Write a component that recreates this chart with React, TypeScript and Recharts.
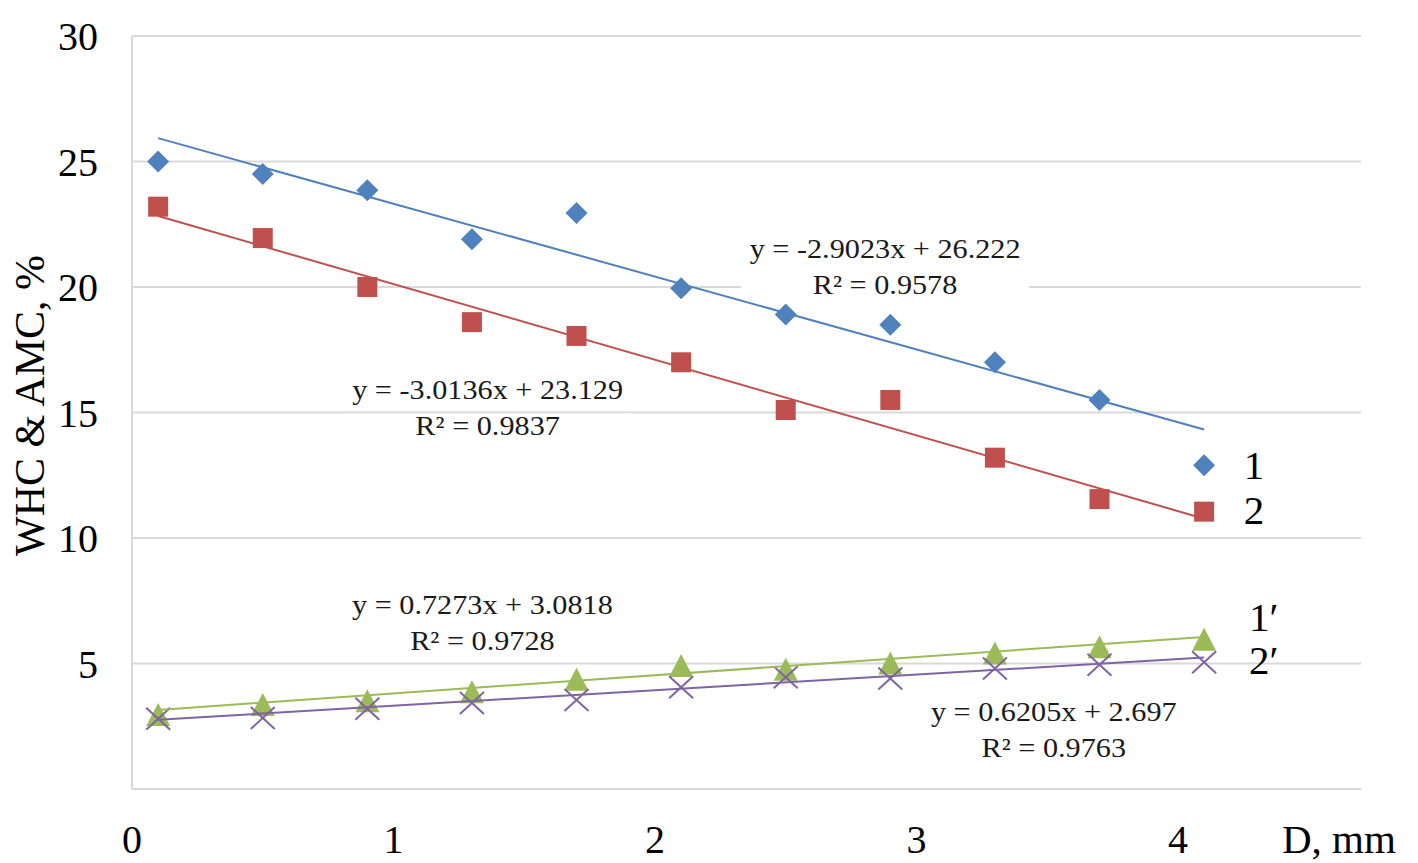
import React from 'react';
import {
  ScatterChart, Scatter, XAxis, YAxis, CartesianGrid, ReferenceDot,
} from 'recharts';

// grain size D, mm
const D_VALUES = [0.1, 0.5, 0.9, 1.3, 1.7, 2.1, 2.5, 2.9, 3.3, 3.7, 4.1];

// series
const WHC_1 = [25.0, 24.5, 23.85, 21.9, 22.95, 19.95, 18.9, 18.5, 17.0, 15.5, 12.9];
const WHC_2 = [23.2, 21.95, 20.0, 18.6, 18.05, 17.0, 15.1, 15.5, 13.2, 11.55, 11.05];
const AMC_1 = [2.95, 3.35, 3.5, 3.85, 4.35, 4.9, 4.75, 5.0, 5.4, 5.65, 5.95];
const AMC_2 = [2.8, 2.83, 3.2, 3.43, 3.55, 4.05, 4.45, 4.4, 4.8, 4.95, 5.05];

// linear trendline end points
const TREND_X = [0.1, 4.1];
const TREND_1 = [25.93, 14.32];
const TREND_2 = [22.83, 10.77];
const TREND_1P = [3.15, 6.06];
const TREND_2P = [2.76, 5.24];

const X_TICKS = [0, 1, 2, 3, 4];
const Y_TICKS = [0, 5, 10, 15, 20, 25, 30];

const EQUATIONS = [
  { x: 2.88, y: 20.8, lines: ['y = -2.9023x + 26.222', 'R² = 0.9578'], box: true },
  { x: 1.36, y: 15.2, lines: ['y = -3.0136x + 23.129', 'R² = 0.9837'], box: true },
  { x: 1.34, y: 6.65, lines: ['y = 0.7273x + 3.0818', 'R² = 0.9728'], box: false },
  { x: 3.525, y: 2.35, lines: ['y = 0.6205x + 2.697', 'R² = 0.9763'], box: false },
];

const SERIES_LABELS = [
  { x: 4.29, y: 12.9, text: '1' },
  { x: 4.29, y: 11.1, text: '2' },
  { x: 4.31, y: 6.85, text: '1′' },
  { x: 4.31, y: 5.15, text: '2′' },
];

const BLUE = '#4f81bd';
const RED = '#c0504d';
const GREEN = '#9bbb59';
const PURPLE = '#8064a2';
const GRID = '#d9d9d9';
const FONT = "'Liberation Serif', 'Times New Roman', serif";

const toPoints = (ys: number[]) => D_VALUES.map((x, i) => ({ x, y: ys[i] }));
const toTrend = (ys: number[]) => TREND_X.map((x, i) => ({ x, y: ys[i] }));

const Diamond = ({ cx, cy }: any) => (
  <path d={`M${cx},${cy - 11}L${cx + 11},${cy}L${cx},${cy + 11}L${cx - 11},${cy}Z`} fill={BLUE} />
);
const Square = ({ cx, cy }: any) => (
  <rect x={cx - 10} y={cy - 10} width={20} height={20} fill={RED} />
);
const Triangle = ({ cx, cy }: any) => (
  <path d={`M${cx},${cy - 12}L${cx + 12},${cy + 11}L${cx - 12},${cy + 11}Z`} fill={GREEN} />
);
const Cross = ({ cx, cy }: any) => (
  <g stroke={PURPLE} strokeWidth={2}>
    <line x1={cx - 12} y1={cy - 11} x2={cx + 12} y2={cy + 11} />
    <line x1={cx - 12} y1={cy + 11} x2={cx + 12} y2={cy - 11} />
  </g>
);
const NoDot = () => <g />;

const EquationLabel = ({ cx, cy, lines, box }: any) => (
  <g>
    {box && <rect x={cx - 144} y={cy + 6} width={288} height={26} fill="#fff" />}
    <g transform={`translate(${cx},${cy}) scale(1.12,1)`}>
      {lines.map((t: string, i: number) => (
        <text
          key={i}
          x={0}
          y={i === 0 ? -18 : 18}
          textAnchor="middle"
          dominantBaseline="central"
          fontFamily={FONT}
          fontSize={27}
          fill="#1a1a1a"
        >
          {t}
        </text>
      ))}
    </g>
  </g>
);

const SeriesLabel = ({ cx, cy, text }: any) => (
  <text x={cx - 10} y={cy} dominantBaseline="central" fontFamily={FONT} fontSize={41} fill="#000">
    {text}
  </text>
);

export default function App() {
  return (
    <div style={{ position: 'absolute', left: 0, top: 0, width: 1418, height: 863, background: '#fff' }}>
      <ScatterChart width={1418} height={863} margin={{ top: 36, right: 57, bottom: 0, left: 0 }}>
        <CartesianGrid vertical={false} stroke={GRID} strokeWidth={2} />
        <XAxis
          type="number"
          dataKey="x"
          domain={[0, 4.7]}
          ticks={X_TICKS}
          allowDataOverflow
          height={74}
          axisLine={{ stroke: GRID, strokeWidth: 2 }}
          tickLine={false}
          tickSize={0}
          tickMargin={36}
          tick={{ fill: '#000', fontSize: 40, fontFamily: FONT }}
          label={(props: any) => {
            const vb = props.viewBox || { x: 132, y: 789, width: 1229 };
            return (
              <text x={vb.x + vb.width - 79} y={vb.y + 64} fontFamily={FONT} fontSize={41} fill="#000">
                D, mm
              </text>
            );
          }}
        />
        <YAxis
          type="number"
          dataKey="y"
          domain={[0, 30]}
          ticks={Y_TICKS}
          allowDataOverflow
          width={132}
          axisLine={{ stroke: GRID, strokeWidth: 2 }}
          tickLine={false}
          tickSize={0}
          tickMargin={34}
          tickFormatter={(v: number) => (v === 0 ? '' : String(v))}
          tick={{ fill: '#000', fontSize: 40, fontFamily: FONT }}
          label={(props: any) => {
            const vb = props.viewBox || { x: 0, y: 36, height: 753 };
            const x = vb.x + 30;
            const y = vb.y + vb.height / 2 - 7;
            return (
              <text
                x={x}
                y={y}
                transform={`rotate(-90, ${x}, ${y})`}
                textAnchor="middle"
                dominantBaseline="central"
                fontFamily={FONT}
                fontSize={42}
                fill="#000"
              >
                WHC &amp; AMC, %
              </text>
            );
          }}
        />

        <Scatter data={toPoints(WHC_1)} shape={Diamond} isAnimationActive={false} />
        <Scatter data={toPoints(WHC_2)} shape={Square} isAnimationActive={false} />
        <Scatter data={toPoints(AMC_1)} shape={Triangle} isAnimationActive={false} />
        <Scatter data={toPoints(AMC_2)} shape={Cross} isAnimationActive={false} />

        <Scatter data={toTrend(TREND_1)} line={{ stroke: BLUE, strokeWidth: 2 }} shape={NoDot} isAnimationActive={false} />
        <Scatter data={toTrend(TREND_2)} line={{ stroke: RED, strokeWidth: 2 }} shape={NoDot} isAnimationActive={false} />
        <Scatter data={toTrend(TREND_1P)} line={{ stroke: GREEN, strokeWidth: 2 }} shape={NoDot} isAnimationActive={false} />
        <Scatter data={toTrend(TREND_2P)} line={{ stroke: PURPLE, strokeWidth: 2 }} shape={NoDot} isAnimationActive={false} />

        {EQUATIONS.map((eq, i) => (
          <ReferenceDot
            key={`eq-${i}`}
            x={eq.x}
            y={eq.y}
            r={0}
            shape={(p: any) => <EquationLabel cx={p.cx} cy={p.cy} lines={eq.lines} box={eq.box} />}
          />
        ))}
        {SERIES_LABELS.map((s, i) => (
          <ReferenceDot
            key={`sl-${i}`}
            x={s.x}
            y={s.y}
            r={0}
            shape={(p: any) => <SeriesLabel cx={p.cx} cy={p.cy} text={s.text} />}
          />
        ))}
      </ScatterChart>
    </div>
  );
}
